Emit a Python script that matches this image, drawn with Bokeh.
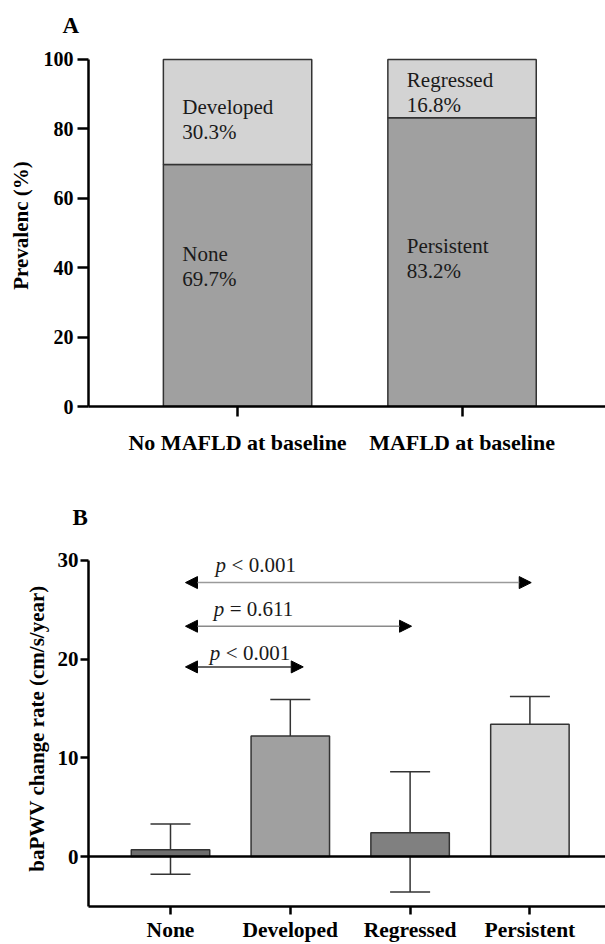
from bokeh.plotting import figure
from bokeh.models import (Range1d, FixedTicker, Label, Arrow, NormalHead, Span,
                          Whisker, TeeHead, ColumnDataSource)
from bokeh.layouts import column
from bokeh.embed import file_html
from bokeh.resources import INLINE
from bokeh.core.properties import value

# ---------------- data ----------------
# Panel A
groups_a = ["No MAFLD at baseline", "MAFLD at baseline"]
bottom_names = ["None", "Persistent"]
bottom_vals = [69.7, 83.2]
top_names = ["Developed", "Regressed"]
top_vals = [30.3, 16.8]
yticks_a = [0, 20, 40, 60, 80, 100]

# Panel B
cats_b = ["None", "Developed", "Regressed", "Persistent"]
mean_b = [0.7, 12.2, 2.4, 13.4]
low_b = [-1.8, 8.5, -3.6, 10.6]
high_b = [3.3, 15.9, 8.6, 16.2]
yticks_b = [0, 10, 20, 30]
comp_ref = "None"
comp_other = ["Persistent", "Regressed", "Developed"]
comp_sign = ["<", "=", "<"]
comp_p = ["0.001", "0.611", "0.001"]

SERIF = "Liberation Serif"


def style_axes(p):
    for ax in (p.xaxis[0], p.yaxis[0]):
        ax.axis_line_width = 2.5
        ax.axis_line_color = "black"
        ax.major_tick_line_width = 2.5
        ax.major_tick_line_color = "black"
        ax.major_tick_in = 0
        ax.minor_tick_line_color = None
        ax.major_label_text_font = SERIF
        ax.major_label_text_font_style = "bold"
        ax.major_label_text_color = "black"
        ax.axis_label_text_font = SERIF
        ax.axis_label_text_font_style = "bold"
        ax.axis_label_text_font_size = "21px"
        ax.axis_label_text_color = "black"
    p.grid.visible = False
    p.outline_line_color = None


def style_title(p, txt, off, standoff):
    p.title.text = txt
    p.title.align = "left"
    p.title.offset = off
    p.title.standoff = standoff
    p.title.text_font = SERIF
    p.title.text_font_style = "bold"
    p.title.text_font_size = "23px"
    p.title.text_color = "black"


# ---------------- Panel A ----------------
xa = [i + 1 for i in range(len(groups_a))]
tot_a = [b + t for b, t in zip(bottom_vals, top_vals)]
pa = figure(width=605, height=475, x_range=Range1d(0.336, 2.639), y_range=Range1d(0, 104.3),
            output_backend="svg", toolbar_location=None,
            min_border_left=88, min_border_right=0, min_border_top=44, min_border_bottom=69)
style_axes(pa)
style_title(pa, "A", -26, 14)
pa.yaxis.bounds = (0, 100)
pa.yaxis.ticker = FixedTicker(ticks=yticks_a)
pa.yaxis.major_tick_out = 11
pa.yaxis.major_label_standoff = 4
pa.yaxis.major_label_text_font_size = "20px"
pa.yaxis.axis_label = "Prevalenc (%)"
pa.yaxis.axis_label_standoff = 8
pa.xaxis.ticker = FixedTicker(ticks=xa)
pa.xaxis.major_label_overrides = {x: g for x, g in zip(xa, groups_a)}
pa.xaxis.major_tick_out = 10
pa.xaxis.major_label_standoff = 13
pa.xaxis.major_label_text_font_size = "22px"

bw_a = 0.661
pa.vbar(x=xa, bottom=0, top=bottom_vals, width=bw_a, fill_color="#a0a0a0",
        line_color="#333333", line_width=1.5)
pa.vbar(x=xa, bottom=bottom_vals, top=tot_a, width=bw_a, fill_color="#d3d3d3",
        line_color="#333333", line_width=1.5)

left_a = [x - bw_a / 2 for x in xa]
name_y_top = [86.2, 94.2]
name_y_bot = [43.8, 46.1]
for names, vals, ys in ((top_names, top_vals, name_y_top), (bottom_names, bottom_vals, name_y_bot)):
    src = ColumnDataSource(dict(x=left_a, y=ys, name=names, pct=[f"{v:.1f}%" for v in vals]))
    pa.text(x="x", y="y", text="name", source=src, x_offset=19, text_baseline="middle",
            text_font=value(SERIF), text_font_size="21px", text_color="#1a1a1a")
    pa.text(x="x", y="y", text="pct", source=src, x_offset=19, y_offset=25, text_baseline="middle",
            text_font=value(SERIF), text_font_size="21px", text_color="#1a1a1a")

# ---------------- Panel B ----------------
xb = [i + 1 for i in range(len(cats_b))]
pb = figure(width=605, height=469, x_range=Range1d(0.3155, 4.631), y_range=Range1d(-5.06, 31),
            output_backend="svg", toolbar_location=None,
            min_border_left=88, min_border_right=0, min_border_top=75, min_border_bottom=37)
style_axes(pb)
style_title(pb, "B", -16, 42)
pb.yaxis.bounds = (-5.06, 30)
pb.yaxis.ticker = FixedTicker(ticks=yticks_b)
pb.yaxis.major_tick_out = 8
pb.yaxis.major_label_standoff = 2
pb.yaxis.major_label_text_font_size = "21px"
pb.yaxis.axis_label = "baPWV change rate (cm/s/year)"
pb.yaxis.axis_label_standoff = 6
pb.xaxis.ticker = FixedTicker(ticks=xb)
pb.xaxis.major_label_overrides = {x: c for x, c in zip(xb, cats_b)}
pb.xaxis.major_tick_out = 8
pb.xaxis.major_label_standoff = 3
pb.xaxis.major_label_text_font_size = "21.5px"

colors_b = ["#6e6e6e", "#a0a0a0", "#808080", "#d3d3d3"]
srcb = ColumnDataSource(dict(x=xb, top=mean_b, lo=low_b, hi=high_b, color=colors_b))
pb.vbar(x="x", bottom=0, top="top", width=0.655, fill_color="color", line_color="#333333",
        line_width=1.5, source=srcb)
pb.add_layout(Span(location=0, dimension="width", line_color="black", line_width=2.5))
pb.add_layout(Whisker(base="x", lower="lo", upper="hi", source=srcb, line_color="#333333",
                      line_width=1.5,
                      upper_head=TeeHead(size=40, line_color="#333333", line_width=1.5),
                      lower_head=TeeHead(size=40, line_color="#333333", line_width=1.5)))

# comparison arrows
arrow_y = [27.75, 23.33, 19.21]
end_off = [0.011, 0.012, 0.108]
text_x = [1.376, 1.361, 1.328]
text_y = [29.5, 25.1, 20.6]
line_cols = ["#9a9a9a", "#8a8a8a", "#333333"]
ref_x = xb[cats_b.index(comp_ref)]
for other, s, pv, ay, eo, tx, ty, lc in zip(comp_other, comp_sign, comp_p, arrow_y, end_off,
                                             text_x, text_y, line_cols):
    ex = xb[cats_b.index(other)] + eo
    pb.add_layout(Arrow(x_start=ref_x + 0.125, y_start=ay, x_end=ex, y_end=ay,
                        line_color=lc, line_width=1.5,
                        start=NormalHead(size=12, fill_color="black", line_color="black", line_width=1),
                        end=NormalHead(size=12, fill_color="black", line_color="black", line_width=1)))
    pb.add_layout(Label(x=tx, y=ty, text="p", text_baseline="middle", text_font=SERIF,
                        text_font_style="italic", text_font_size="21px", text_color="#1a1a1a"))
    pb.add_layout(Label(x=tx, y=ty, x_offset=16, text=f"{s} {pv}", text_baseline="middle",
                        text_font=SERIF, text_font_size="21px", text_color="#1a1a1a"))

layout = column(pa, pb, spacing=0)
open("out.html", "w").write(file_html(layout, INLINE))
